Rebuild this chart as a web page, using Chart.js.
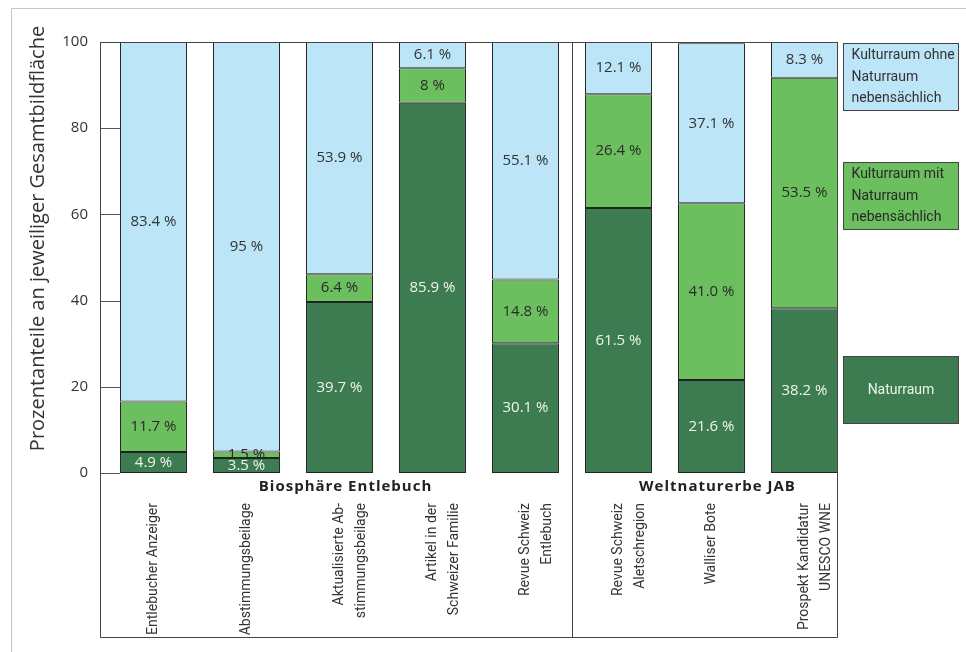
<!DOCTYPE html>
<html lang="de">
  <head>
    <meta charset="UTF-8" />
    <title>Gesamtbildfläche</title>
    <style>
      html, body { margin: 0; padding: 0; background: #fff; }
      .chart-container { position: relative; width: 966px; height: 652px; }
    </style>
  </head>
  <body>
    <div class="chart-container">
      <canvas id="bars"></canvas>
    </div>

    <script src="https://cdn.jsdelivr.net/npm/chart.js"></script>
    <script>
      // categories (one bar each) and the two groups they belong to
      const categories = [
        "Entlebucher Anzeiger",
        "Abstimmungsbeilage",
        ["Aktualisierte Ab-", "stimmungsbeilage"],
        ["Artikel in der", "Schweizer Familie"],
        ["Revue Schweiz", "Entlebuch"],
        ["Revue Schweiz", "Aletschregion"],
        "Walliser Bote",
        ["Prospekt Kandidatur", "UNESCO WNE"],
      ];
      const groupNames = ["Biosphäre Entlebuch", "Weltnaturerbe JAB"];
      const groupOf = [0, 0, 0, 0, 0, 1, 1, 1];

      // values kept as printed in the figure (e.g. "41.0", "95")
      const naturraum = ["4.9", "3.5", "39.7", "85.9", "30.1", "61.5", "21.6", "38.2"];
      const kulturMit = ["11.7", "1.5", "6.4", "8", "14.8", "26.4", "41.0", "53.5"];
      const kulturOhne = ["83.4", "95", "53.9", "6.1", "55.1", "12.1", "37.1", "8.3"];

      const yTicks = [0, 20, 40, 60, 80, 100];
      const yTitle = "Prozentanteile an jeweiliger Gesamtbildfläche";

      const FONT = "'Open Sans', sans-serif";
      const NARROW = "Roboto, sans-serif";
      Chart.defaults.font.family = FONT;
      Chart.defaults.color = "#333";

      // frame lines, short tick marks, group dividers
      const framePlugin = {
        id: "frame",
        beforeDraw(chart) {
          const ctx = chart.ctx;
          ctx.save();
          ctx.strokeStyle = "#c4c4c4";
          ctx.lineWidth = 1;
          ctx.beginPath();
          ctx.moveTo(11.5, chart.height);
          ctx.lineTo(11.5, 8.5);
          ctx.lineTo(chart.width, 8.5);
          ctx.stroke();

          // axis title, a bit above the middle like the original
          const ca = chart.chartArea;
          ctx.translate(38, (ca.top + ca.bottom) / 2 - 19);
          ctx.rotate(-Math.PI / 2);
          ctx.font = "20px " + FONT;
          ctx.fillStyle = "#333";
          ctx.textAlign = "center";
          ctx.textBaseline = "middle";
          ctx.fillText(yTitle, 0, 0);
          ctx.restore();
        },
        afterDatasetsDraw(chart) {
          const { ctx, chartArea, scales } = chart;
          const bars = chart.getDatasetMeta(0).data;
          const left = bars[0].x - bars[0].width / 2 - 20;
          const firstBar = bars[0].x - bars[0].width / 2;
          const last = bars[bars.length - 1];
          const right = last.x + last.width / 2;
          const bottom = scales.x.bottom;
          ctx.save();
          ctx.lineWidth = 1;
          ctx.strokeStyle = "#555";
          ctx.beginPath();
          yTicks.forEach((v) => {
            const y = Math.round(scales.y.getPixelForValue(v)) + 0.5;
            ctx.moveTo(left, y);
            ctx.lineTo(firstBar, y);
          });
          ctx.stroke();

          ctx.strokeStyle = "#444";
          ctx.beginPath();
          const t = Math.round(chartArea.top) + 0.5;
          const l = Math.round(left) + 0.5;
          const r = Math.round(right) - 0.5;
          const b = Math.round(bottom) + 0.5;
          ctx.moveTo(l, t);
          ctx.lineTo(r, t);
          ctx.lineTo(r, b);
          ctx.lineTo(l, b);
          ctx.closePath();
          // divider between the groups
          for (let i = 1; i < groupOf.length; i++) {
            if (groupOf[i] !== groupOf[i - 1]) {
              const a = bars[i - 1], c = bars[i];
              const x = Math.round(((a.x + a.width / 2) + (c.x - c.width / 2)) / 2) + 0.5;
              ctx.moveTo(x, t);
              ctx.lineTo(x, b);
            }
          }
          ctx.stroke();

          // group names under the bars
          ctx.fillStyle = "#222";
          ctx.font = "bold 15px " + FONT;
          ctx.letterSpacing = "1px";
          ctx.textAlign = "center";
          ctx.textBaseline = "middle";
          groupNames.forEach((name, g) => {
            const idx = groupOf.map((v, i) => (v === g ? i : -1)).filter((i) => i >= 0);
            const a = bars[idx[0]], c = bars[idx[idx.length - 1]];
            const x = ((a.x - a.width / 2) + (c.x + c.width / 2)) / 2;
            ctx.fillText(name, x + 6, chartArea.bottom + 14);
          });
          ctx.restore();
        },
      };

      // percentages printed in the middle of every segment
      const valueLabels = {
        id: "valueLabels",
        afterDatasetsDraw(chart) {
          const ctx = chart.ctx;
          ctx.save();
          ctx.font = "15px " + FONT;
          ctx.textAlign = "center";
          ctx.textBaseline = "middle";
          chart.data.datasets.forEach((ds, di) => {
            chart.getDatasetMeta(di).data.forEach((bar, i) => {
              const { x, y, base } = bar.getProps(["x", "y", "base"], true);
              ctx.fillStyle = ds.labelColor;
              ctx.fillText(ds.data[i] + " %", x, (y + base) / 2);
            });
          });
          ctx.restore();
        },
      };

      // boxed legend on the right
      const boxLegend = {
        id: "boxLegend",
        afterDraw(chart) {
          const ctx = chart.ctx;
          const tops = [356, 162, 43];
          ctx.save();
          ctx.font = "14px " + NARROW;
          ctx.textBaseline = "middle";
          chart.data.datasets.forEach((ds, di) => {
            const x = 843.5, y = tops[di] + 0.5, w = 115, h = 67;
            ctx.fillStyle = ds.backgroundColor;
            ctx.fillRect(x, y, w, h);
            ctx.strokeStyle = "#444";
            ctx.lineWidth = 1;
            ctx.strokeRect(x, y, w, h);
            ctx.fillStyle = ds.labelColor;
            const lines = ds.legendLines;
            if (lines.length === 1) {
              ctx.textAlign = "center";
              ctx.fillText(lines[0], x + w / 2, y + h / 2);
            } else {
              ctx.textAlign = "left";
              lines.forEach((s, k) => {
                ctx.fillText(s, x + 8, y + h / 2 + (k - 1) * 21.5);
              });
            }
          });
          ctx.restore();
        },
      };

      new Chart(document.getElementById("bars"), {
        type: "bar",
        data: {
          labels: categories,
          datasets: [
            {
              label: "Naturraum",
              legendLines: ["Naturraum"],
              data: naturraum,
              backgroundColor: "#3d7c50",
              labelColor: "#eef4ee",
            },
            {
              label: "Kulturraum mit Naturraum nebensächlich",
              legendLines: ["Kulturraum mit", "Naturraum", "nebensächlich"],
              data: kulturMit,
              backgroundColor: "#6cbf5e",
              labelColor: "#2a2a2a",
            },
            {
              label: "Kulturraum ohne Naturraum nebensächlich",
              legendLines: ["Kulturraum ohne", "Naturraum", "nebensächlich"],
              data: kulturOhne,
              backgroundColor: "#bce5f8",
              labelColor: "#333",
            },
          ],
        },
        options: {
          responsive: true,
          maintainAspectRatio: false,
          animation: false,
          layout: { padding: { left: 0, right: 115, top: 42, bottom: 15 } },
          datasets: {
            bar: {
              borderColor: "#222",
              borderWidth: 1,
              borderSkipped: false,
              categoryPercentage: 1,
              barPercentage: 0.72,
            },
          },
          plugins: {
            legend: { display: false },
            tooltip: { enabled: false },
          },
          scales: {
            x: {
              stacked: true,
              grid: { display: false, drawTicks: false },
              border: { display: false },
              ticks: {
                maxRotation: 90,
                minRotation: 90,
                padding: 30,
                autoSkip: false,
                font: { size: 14, family: NARROW, lineHeight: 1.6 },
                color: "#333",
              },
              afterFit(scale) {
                scale.height = 164;
              },
            },
            y: {
              stacked: true,
              min: 0,
              max: 100,
              grid: { display: false, drawTicks: false },
              border: { display: false },
              ticks: { stepSize: 20, padding: 19, font: { size: 15 }, color: "#333" },
              afterFit(scale) {
                scale.width = 107;
              },
            },
          },
        },
        plugins: [framePlugin, valueLabels, boxLegend],
      });
    </script>
  </body>
</html>
